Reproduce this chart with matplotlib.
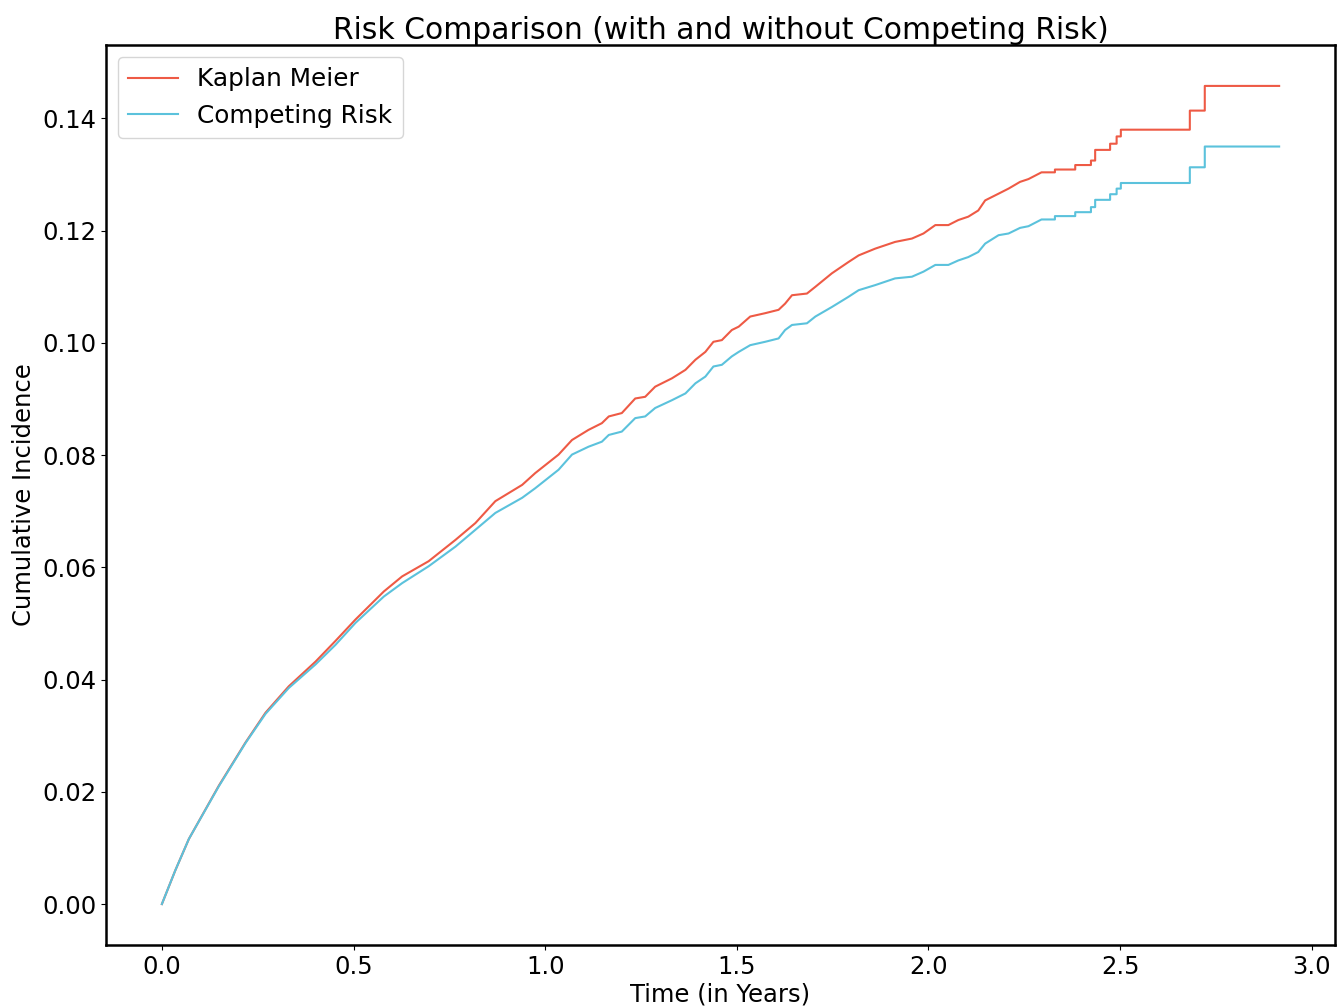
import numpy as np
import matplotlib
matplotlib.use("Agg")
import matplotlib.pyplot as plt

# smooth part of both curves (years, cumulative incidence)
t_smooth = [0, 0.035, 0.0704, 0.1486, 0.2182, 0.2704, 0.331, 0.4008, 0.453, 0.505,
            0.579, 0.627, 0.696, 0.766, 0.818, 0.870, 0.940, 0.974, 1.035, 1.070,
            1.113, 1.148, 1.166, 1.200, 1.235, 1.261, 1.287, 1.331, 1.366, 1.392,
            1.418, 1.439, 1.461, 1.487, 1.505, 1.535, 1.574, 1.609, 1.626, 1.644,
            1.683, 1.705, 1.748, 1.791, 1.818, 1.861, 1.913, 1.957, 1.987, 2.018,
            2.052, 2.078, 2.104, 2.130, 2.148, 2.183, 2.209, 2.239, 2.261]
km_smooth = [0, 0.0060, 0.0116, 0.0211, 0.0288, 0.0341, 0.0388, 0.0432, 0.0469, 0.0507,
             0.0557, 0.0584, 0.0611, 0.0649, 0.0679, 0.0718, 0.0747, 0.0768, 0.0801, 0.0827,
             0.0845, 0.0857, 0.0869, 0.0875, 0.0901, 0.0904, 0.0922, 0.0937, 0.0952, 0.0970,
             0.0984, 0.1002, 0.1005, 0.1023, 0.1029, 0.1047, 0.1053, 0.1059, 0.1070, 0.1085,
             0.1088, 0.1100, 0.1124, 0.1144, 0.1156, 0.1168, 0.1180, 0.1186, 0.1195, 0.1210,
             0.1210, 0.1219, 0.1225, 0.1236, 0.1254, 0.1266, 0.1275, 0.1287, 0.1292]
cr_smooth = [0, 0.0060, 0.0116, 0.0210, 0.0287, 0.0339, 0.0385, 0.0427, 0.0462, 0.0501,
             0.0548, 0.0572, 0.0602, 0.0637, 0.0667, 0.0697, 0.0724, 0.0741, 0.0774, 0.0801,
             0.0815, 0.0824, 0.0836, 0.0842, 0.0866, 0.0869, 0.0884, 0.0898, 0.0910, 0.0928,
             0.0940, 0.0958, 0.0961, 0.0976, 0.0984, 0.0996, 0.1002, 0.1008, 0.1023, 0.1032,
             0.1035, 0.1047, 0.1064, 0.1082, 0.1094, 0.1103, 0.1115, 0.1118, 0.1127, 0.1139,
             0.1139, 0.1147, 0.1153, 0.1162, 0.1177, 0.1192, 0.1195, 0.1205, 0.1208]

# tail, where the individual steps are visible
t_steps = [2.295, 2.330, 2.383, 2.424, 2.435, 2.474, 2.491, 2.502, 2.682, 2.721, 2.915]
km_steps = [0.1304, 0.1309, 0.1317, 0.1325, 0.1344, 0.1355, 0.1368, 0.1380, 0.1414, 0.1458, 0.1458]
cr_steps = [0.1220, 0.1226, 0.1233, 0.1242, 0.1255, 0.1265, 0.1275, 0.1285, 0.1313, 0.1350, 0.1350]


def full_curve(vals_smooth, vals_steps):
    ts = np.repeat(t_steps, 2)[1:]
    vs = np.repeat(vals_steps, 2)[:-1]
    return np.concatenate([t_smooth, ts]), np.concatenate([vals_smooth, vs])


fig = plt.figure(figsize=(13.37, 10.07), dpi=100)
ax = fig.add_axes([0.0793, 0.0616, 0.9192, 0.8937])

x, y = full_curve(km_smooth, km_steps)
ax.plot(x, y, color="#EE5A45", lw=1.5, label="Kaplan Meier")
x, y = full_curve(cr_smooth, cr_steps)
ax.plot(x, y, color="#5BC2DC", lw=1.5, label="Competing Risk")

ax.set_title("Risk Comparison (with and without Competing Risk)", fontsize=21.4, pad=4)
ax.set_xlabel("Time (in Years)", fontsize=17.5, labelpad=3)
ax.set_ylabel("Cumulative Incidence", fontsize=17.5)
ax.tick_params(labelsize=17.5)
for s in ax.spines.values():
    s.set_linewidth(1.8)
ax.legend(loc="upper left", fontsize=17.8)

fig.savefig("out.png", dpi=100)
